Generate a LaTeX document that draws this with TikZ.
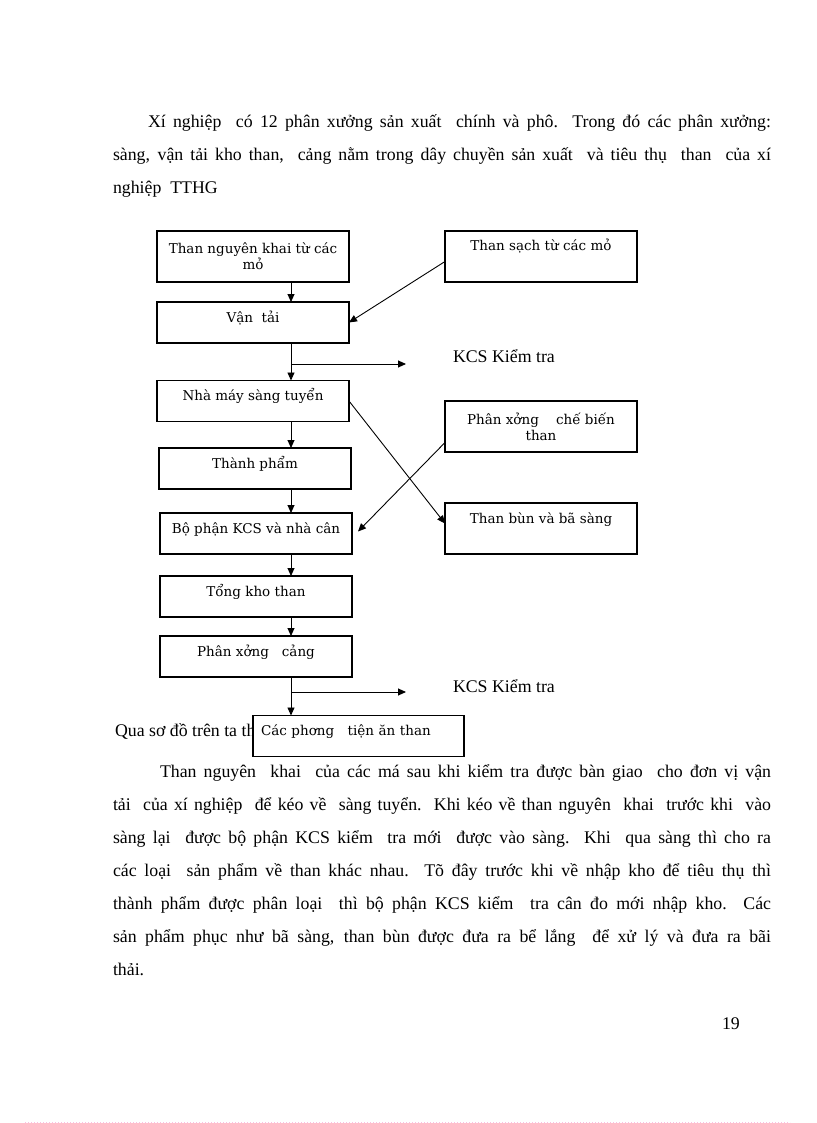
\documentclass[tikz,border=0pt]{standalone}
\usepackage{fontspec}
\setmainfont{Liberation Serif}
\newfontfamily\hopfont{DejaVu Serif}
\usetikzlibrary{arrows.meta,calc}

\tikzset{
  hop/.style={draw=black, fill=white, line width=1.1pt, minimum width=192, minimum height=41,
    font=\hopfont\fontsize{13.5}{16}\selectfont, align=center, text height=11pt, text depth=12pt},
  hopcao/.style={hop, minimum height=51, text depth=22pt},
  hophai/.style={hop, minimum height=51, text height=, text depth=},
  muiten/.style={draw=black, line width=0.9pt, -{Triangle[width=7pt,length=8pt]}},
  vanban/.style={font=\fontsize{17.8}{33}\selectfont, anchor=base west},
  doan/.style={vanban, text width=658pt, align=justify}
}

\begin{document}
\begin{tikzpicture}[y=1pt, x=1pt, yscale=-1, inner sep=0pt, outer sep=0pt]
\useasboundingbox (0,0) rectangle (816,1123);


\node[doan] (doan1) at (113,128) {\hspace*{35pt}Xí nghiệp\ \ có 12 phân xưởng sản xuất\ \ chính và phô. Trong đó các phân xưởng:\linebreak
sàng, vận tải kho than,\ \ cảng nằm trong dây chuyền sản xuất\ \ và tiêu thụ\ \ than\ \ của xí\linebreak
nghiệp\ \ TTHG};



\node[vanban] (qua) at (115,736) {Qua sơ đồ trên ta th};



\node[doan] (doan2) at (113,777) {\hspace*{47pt}Than nguyên\ \ khai\ \ của các má sau khi kiểm tra được bàn giao\ \ cho đơn vị vận\linebreak
tải\ \ của xí nghiệp\ \ để kéo về\ \ sàng tuyển.\ \ Khi kéo về than nguyên\ \ khai\ \ trước khi\ \ vào\linebreak
sàng lại\ \ được bộ phận KCS kiểm\ \ tra mới\ \ được vào sàng.\ \ Khi\ \ qua sàng thì cho ra\linebreak
các loại\ \ sản phẩm về than khác nhau.\ \ Tõ đây trước khi về nhập kho để tiêu thụ thì\linebreak
thành phẩm được phân loại\ \ thì bộ phận KCS kiểm\ \ tra cân đo mới nhập kho.\ \ Các\linebreak
sản phẩm phục như bã sàng, than bùn được đưa ra bể lắng\ \ để xử lý và đưa ra bãi\linebreak
thải.};



\node[vanban] (trang) at (722,1029) {19};



\node[hophai] (mo) at (253,256.5) {Than nguyên khai từ các\\mỏ};
\node[hopcao] (sach) at (541,256.5) {Than sạch từ các mỏ};
\node[hop] (vantai) at (253,322.5) {Vận\ \ tải};
\node[hop] (sang) at (253,401) {Nhà máy sàng tuyển};
\node[hophai] (chebien) at (541,426.5) {Phân xởng\ \ \ \ chế biến\\than};
\node[hop] (thanhpham) at (255,468.5) {Thành phẩm};
\node[hop] (bophan) at (256,533.5) {Bộ phận KCS và nhà cân};
\node[hopcao] (bun) at (541,528.5) {Than bùn và bã sàng};
\node[hop] (kho) at (256,596.5) {Tổng kho than};
\node[hop] (cang) at (256,656.5) {Phân xởng\ \ \ cảng};
\node[hop, minimum width=211, text width=195, align=left] (phuongtien) at (358.5,736) {Các phơng\ \ \ tiện ăn than};



\node[vanban] (kcs1) at (453,362) {KCS Kiểm tra};
\node[vanban] (kcs2) at (453,692) {KCS Kiểm tra};



\coordinate (truc) at (291,0);
\coordinate (nhanh1) at (291,364);
\coordinate (ra1) at (406,364);
\coordinate (nhanh2) at (291,692);
\coordinate (ra2) at (406,692);



\draw[muiten] (mo.south -| truc) -- (vantai.north -| truc);
\draw[muiten] ($(sach.west)+(0,5)$) -- (vantai.east);
\draw[muiten] (vantai.south -| truc) -- (sang.north -| truc);
\draw[muiten] (nhanh1) -- (ra1);
\draw[muiten] (sang.east) -- ($(bun.west)+(0,-5)$);
\draw[muiten] ($(chebien.west)+(0,16)$) -- ($(bophan.east)+(6,-2)$);
\draw[muiten] (sang.south -| truc) -- (thanhpham.north -| truc);
\draw[muiten] (thanhpham.south -| truc) -- (bophan.north -| truc);
\draw[muiten] (bophan.south -| truc) -- (kho.north -| truc);
\draw[muiten] (kho.south -| truc) -- (cang.north -| truc);
\draw[muiten] (cang.south -| truc) -- (phuongtien.north -| truc);
\draw[muiten] (nhanh2) -- (ra2);



\draw[draw=magenta!25, line width=1pt, dotted] (25,1122) -- (790,1122);


\end{tikzpicture}
\end{document}
